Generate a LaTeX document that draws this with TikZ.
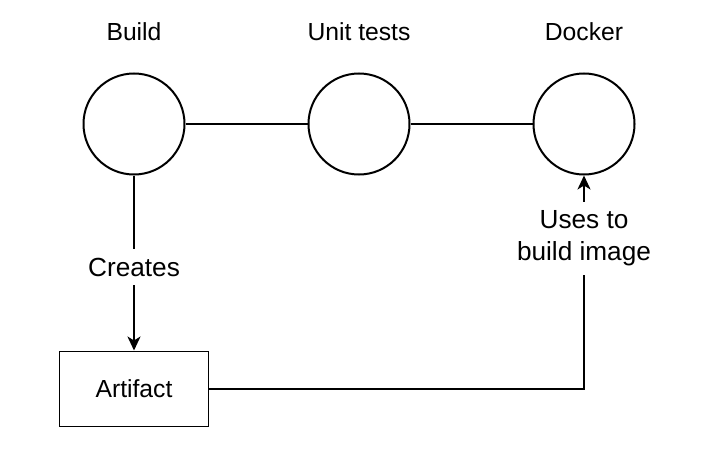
\documentclass[tikz,border=0pt]{standalone}
\usepackage{fontspec}
\setmainfont{Liberation Sans}
\usetikzlibrary{positioning,arrows.meta}

\begin{document}
\begin{tikzpicture}[x=1pt,y=1pt]
	\tikzstyle{stage}=[circle, minimum size = 101pt, inner sep=0pt, line width=2pt, draw=black, node distance = 122pt]
	\tikzstyle{tag}=[inner sep=0pt, font=\fontsize{24.7}{31}\selectfont]
	\tikzstyle{lbl}=[fill=white, inner sep=9pt, align=center, font=\fontsize{26.2}{31.5}\selectfont]
	\tikzstyle{connect}=[line width=2pt]
	\tikzstyle{arrow}=[-{Stealth[length=14pt, width=13pt, inset=4pt]}, line width=2pt]
	\tikzstyle{box}=[rectangle, draw=black, line width=1.3pt, minimum width=149pt, minimum height=75pt, font=\fontsize{24.7}{31}\selectfont]
	\useasboundingbox (0,0) rectangle (711,448);
	  \node[stage] (build) at (134,324) {};
	  \node[stage] (unit) [right=of build] {};
	  \node[stage] (docker) [right=of unit] {};
	  \node[tag] (buildtag) [above=32pt of build] {Build};
	  \node[tag] (unittag) [above=32pt of unit] {Unit tests};
	  \node[tag] (dockertag) [above=32pt of docker] {Docker};
	  \node[box] (art) [below=175pt of build] {Artifact};
	  \node[lbl] (creates) at (134,181) {Creates};
	  \node[lbl] (uses) [below=26pt of docker] {Uses to\\build image};
	  \path (build) edge [connect] (unit)
			(unit) edge [connect] (docker);
	  \draw[connect] (build) -- (creates);
	  \draw[arrow] (creates) -- (art);
	  \draw[connect] (art) -| (uses);
	  \draw[arrow] (uses) -- (docker);
\end{tikzpicture}
\end{document}
